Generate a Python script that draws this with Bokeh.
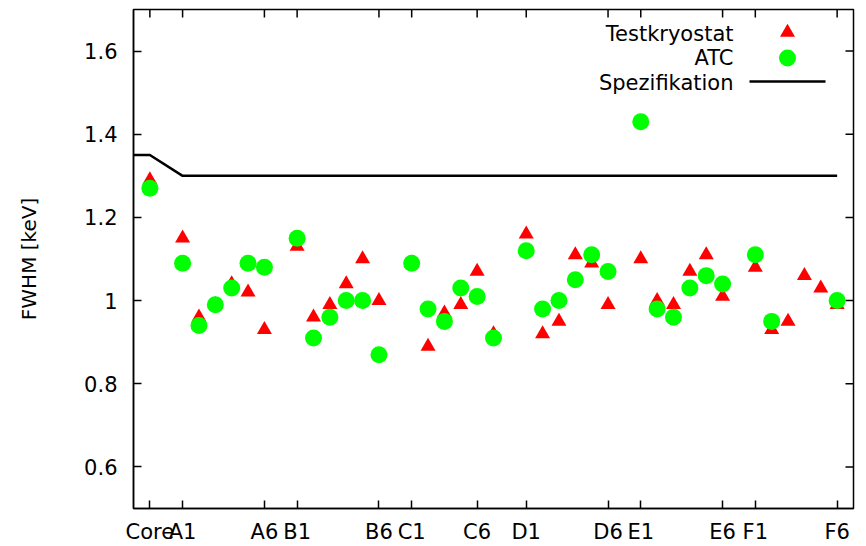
from bokeh.core.properties import value
from bokeh.embed import file_html
from bokeh.models import ColumnDataSource, FixedTicker, Range1d
from bokeh.plotting import figure
from bokeh.resources import INLINE

# Detector names and their positions along the x axis (gaps between groups)
detectors = ["Core",
             "A1", "A2", "A3", "A4", "A5", "A6",
             "B1", "B2", "B3", "B4", "B5", "B6",
             "C1", "C2", "C3", "C4", "C5", "C6",
             "D1", "D2", "D3", "D4", "D5", "D6",
             "E1", "E2", "E3", "E4", "E5", "E6",
             "F1", "F2", "F3", "F4", "F5", "F6"]
x_index = [0,
           2, 3, 4, 5, 6, 7,
           9, 10, 11, 12, 13, 14,
           16, 17, 18, 19, 20, 21,
           23, 24, 25, 26, 27, 28,
           30, 31, 32, 33, 34, 35,
           37, 38, 39, 40, 41, 42]

# FWHM [keV] measured in the test cryostat
testkryostat = [1.29,
                1.15, 0.96, 0.99, 1.04, 1.02, 0.93,
                1.13, 0.96, 0.99, 1.04, 1.10, 1.00,
                1.09, 0.89, 0.97, 0.99, 1.07, 0.92,
                1.16, 0.92, 0.95, 1.11, 1.09, 0.99,
                1.10, 1.00, 0.99, 1.07, 1.11, 1.01,
                1.08, 0.93, 0.95, 1.06, 1.03, 0.99]

# FWHM [keV] measured in the ATC (no value for F3-F5)
nan = float("nan")
atc = [1.27,
       1.09, 0.94, 0.99, 1.03, 1.09, 1.08,
       1.15, 0.91, 0.96, 1.00, 1.00, 0.87,
       1.09, 0.98, 0.95, 1.03, 1.01, 0.91,
       1.12, 0.98, 1.00, 1.05, 1.11, 1.07,
       1.43, 0.98, 0.96, 1.03, 1.06, 1.04,
       1.11, 0.95, nan, nan, nan, 1.00]

# Specification limit
spec_x = [-1, 0, 2, 42]
spec_y = [1.35, 1.35, 1.30, 1.30]

# Axis ticks
x_tick_pos = [0, 2, 7, 9, 14, 16, 20, 23, 28, 30, 35, 37, 42]
x_tick_labels = ["Core", "A1", "A6", "B1", "B6", "C1", "C6",
                 "D1", "D6", "E1", "E6", "F1", "F6"]
y_tick_values = [0.6, 0.8, 1.0, 1.2, 1.4, 1.6]
y_tick_labels = ["0.6", "0.8", "1", "1.2", "1.4", "1.6"]

y_title = "FWHM [keV]"
legend_labels = ["Testkryostat", "ATC", "Spezifikation"]

# ---- layout ----
W, H = 866, 546
FRAME_L, FRAME_R, FRAME_T, FRAME_B = 133, 853, 9, 508
X0, X1 = -1, 43
Y0, Y1 = 0.5, 1.7
FONT = "DejaVu Sans"
FS = "21px"
TICK = 8


def px_to_x(px):
    return X0 + (px - FRAME_L) / (FRAME_R - FRAME_L) * (X1 - X0)


def py_to_y(py):
    return Y1 - (py - FRAME_T) / (FRAME_B - FRAME_T) * (Y1 - Y0)


p = figure(width=W, height=H,
           x_range=Range1d(X0, X1), y_range=Range1d(Y0, Y1),
           toolbar_location=None, output_backend="svg",
           min_border_left=FRAME_L, min_border_right=W - FRAME_R,
           min_border_top=FRAME_T, min_border_bottom=H - FRAME_B,
           background_fill_color="white", border_fill_color="white")
p.xgrid.visible = False
p.ygrid.visible = False
p.outline_line_color = "black"
p.outline_line_width = 1.5


def style_axis(ax, ticks, labels, standoff):
    ax.ticker = FixedTicker(ticks=ticks)
    ax.major_label_overrides = dict(zip(ticks, labels))
    ax.axis_line_color = "black"
    ax.axis_line_width = 1.5
    ax.major_tick_in = TICK
    ax.major_tick_out = 0
    ax.major_tick_line_color = "black"
    ax.major_tick_line_width = 1.5
    ax.minor_tick_line_color = None
    ax.major_label_text_font = FONT
    ax.major_label_text_font_size = FS
    ax.major_label_text_color = "black"
    ax.major_label_standoff = standoff


style_axis(p.xaxis[0], x_tick_pos, x_tick_labels, 11)
style_axis(p.yaxis[0], y_tick_values, y_tick_labels, 16)

yax = p.yaxis[0]
yax.axis_label = y_title
yax.axis_label_text_font = FONT
yax.axis_label_text_font_size = "20px"
yax.axis_label_text_font_style = "normal"
yax.axis_label_text_color = "black"
yax.axis_label_standoff = 40

# mirrored inward ticks on the top and right frame edges
top_y1 = py_to_y(FRAME_T + TICK)
p.segment(x0=x_tick_pos, y0=[Y1] * len(x_tick_pos),
          x1=x_tick_pos, y1=[top_y1] * len(x_tick_pos),
          line_color="black", line_width=1.5)
right_x1 = px_to_x(FRAME_R - TICK)
p.segment(x0=[X1] * len(y_tick_values), y0=y_tick_values,
          x1=[right_x1] * len(y_tick_values), y1=y_tick_values,
          line_color="black", line_width=1.5)

# ---- data ----
src = ColumnDataSource(dict(x=x_index, name=detectors,
                            test=testkryostat, atc=atc))

p.line(spec_x, spec_y, line_color="black", line_width=2.5)
p.scatter("x", "test", source=src, marker="triangle", size=15,
          fill_color="#ff0000", line_color=None)
p.scatter("x", "atc", source=src, marker="circle", size=17,
          fill_color="#00ff00", line_color=None)

# ---- key (labels right-aligned, symbols to their right) ----
row_py = [33, 57.5, 82]
text_right_px = 733
sym_px = 787
line_px = (749, 825)

p.text(x=[px_to_x(text_right_px)] * 3, y=[py_to_y(v) for v in row_py],
       text=legend_labels, text_align="right", text_baseline="middle",
       text_font=value(FONT), text_font_size=FS, text_color="black")
p.scatter([px_to_x(sym_px)], [py_to_y(row_py[0] - 1)], marker="triangle",
          size=15, fill_color="#ff0000", line_color=None)
p.scatter([px_to_x(sym_px)], [py_to_y(row_py[1])], marker="circle",
          size=17, fill_color="#00ff00", line_color=None)
p.line([px_to_x(line_px[0]), px_to_x(line_px[1])],
       [py_to_y(row_py[2] - 1)] * 2, line_color="black", line_width=2.5)

open("out.html", "w").write(file_html(p, INLINE))
